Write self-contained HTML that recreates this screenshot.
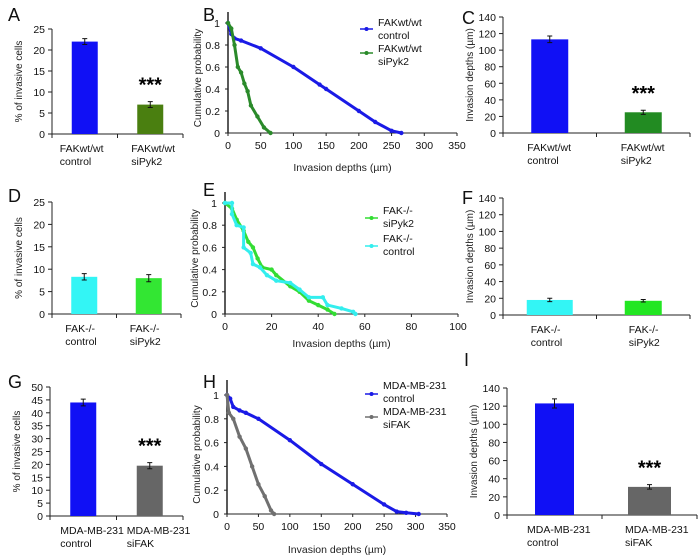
<!DOCTYPE html>
<html><head><meta charset="utf-8"><style>
html,body{margin:0;padding:0;background:#fff;}
svg{display:block;font-family:"Liberation Sans",Arial,sans-serif;}
</style></head><body>
<svg id="fig" width="700" height="558" viewBox="0 0 700 558" xmlns="http://www.w3.org/2000/svg"></svg>
<script>
// ---- Bar chart data ----
const barA_cats = ["FAKwt/wt|control","FAKwt/wt|siPyk2"];
const barA_vals = [22, 7];
const barA_err = [0.7, 0.7];
const barC_cats = ["FAKwt/wt|control","FAKwt/wt|siPyk2"];
const barC_vals = [113, 25];
const barC_err = [4, 2.5];
const barD_cats = ["FAK-/-|control","FAK-/-|siPyk2"];
const barD_vals = [8.3, 8.0];
const barD_err = [0.7, 0.8];
const barF_cats = ["FAK-/-|control","FAK-/-|siPyk2"];
const barF_vals = [18, 17];
const barF_err = [2, 1.5];
const barG_cats = ["MDA-MB-231|control","MDA-MB-231|siFAK"];
const barG_vals = [44, 19.5];
const barG_err = [1.3, 1.2];
const barI_cats = ["MDA-MB-231|control","MDA-MB-231|siFAK"];
const barI_vals = [123, 31];
const barI_err = [5, 2.5];
const ticks25 = [0,5,10,15,20,25];
const ticks50 = [0,5,10,15,20,25,30,35,40,45,50];
const ticks140 = [0,20,40,60,80,100,120,140];
const ticksP = [0,0.2,0.4,0.6,0.8,1];
const ticks350 = [0,50,100,150,200,250,300,350];
const ticks100 = [0,20,40,60,80,100];
// ---- CDF data ----
const cdfB_ctrl_x = [0,5,10,20,50,100,140,150,200,225,250,265];
const cdfB_ctrl_y = [1,0.9,0.86,0.84,0.77,0.6,0.44,0.4,0.2,0.1,0.02,0];
const cdfB_si_x = [0,5,10,15,20,25,30,35,45,55,65];
const cdfB_si_y = [1,0.95,0.8,0.6,0.55,0.45,0.38,0.25,0.15,0.05,0];
const cdfE_si_x = [0,3,5,8,10,12,14,16,20,22,28,32,36,40,44,47];
const cdfE_si_y = [1,0.95,0.85,0.75,0.65,0.6,0.5,0.42,0.4,0.35,0.25,0.2,0.12,0.08,0.04,0];
const cdfE_ctrl_x = [0,3,3,5,8,8,11,12,15,18,22,28,32,36,42,44,50,55,56];
const cdfE_ctrl_y = [1,1,0.9,0.8,0.78,0.6,0.55,0.45,0.42,0.35,0.3,0.28,0.22,0.15,0.15,0.08,0.05,0.02,0];
const cdfH_ctrl_x = [0,5,10,20,30,50,100,150,200,250,270,285,305];
const cdfH_ctrl_y = [1,0.97,0.9,0.87,0.85,0.8,0.62,0.42,0.25,0.08,0.02,0.01,0];
const cdfH_si_x = [0,3,10,20,30,40,50,60,70,75];
const cdfH_si_y = [1,0.85,0.8,0.65,0.55,0.4,0.25,0.15,0.03,0];

const NS="http://www.w3.org/2000/svg";
const svg=document.getElementById('fig');
function mk(tag,attrs,parent,text){const e=document.createElementNS(NS,tag);for(const k in attrs)e.setAttribute(k,attrs[k]);if(text!==undefined)e.textContent=text;(parent||svg).appendChild(e);return e;}
function grp(name){const g=document.createElementNS(NS,'g');svg.appendChild(g);return g;}

function letter(t,x,y){const e=mk('text',{x:x,y:y,'font-size':18,fill:'#111'},svg,t);

}

function barChart(o){
 const g=grp('bar-chart-'+o.id);
 const ys=v=>o.y0-(v/o.ymax)*(o.y0-o.y1);
 mk('line',{x1:o.ax,y1:o.ytop,x2:o.ax,y2:o.y0,stroke:'#222','stroke-width':1},g);
 mk('line',{x1:o.ax,y1:o.y0,x2:o.xend,y2:o.y0,stroke:'#222','stroke-width':1},g);
 const mid=(o.ax+o.xend)/2;
 [o.ax,mid,o.xend].forEach(x=>mk('line',{x1:x,y1:o.y0,x2:x,y2:o.y0+4,stroke:'#222'},g));
 o.ticks.forEach(t=>{const y=ys(t);
  mk('line',{x1:o.ax-4,y1:y,x2:o.ax,y2:y,stroke:'#222'},g);
  const tl=mk('text',{x:o.ax-7,y:y+4,'font-size':10.5,'text-anchor':'end',fill:'#111'},g,String(t));
  
  });
 const ttl=mk('text',{transform:`translate(${o.ax-30},${(o.y0+o.ytop)/2}) rotate(-90)`,'font-size':10,'text-anchor':'middle',fill:'#222'},g,o.ytitle);
 
 
 const slot=(o.xend-o.ax)/2;
 o.vals.forEach((v,i)=>{
  const cx=o.ax+slot*(i+0.5);const w=o.bw[i];
  const r=mk('rect',{x:cx-w/2,y:ys(v),width:w,height:o.y0-ys(v),fill:o.colors[i]},g);
  
  
  const e=o.err[i];
  mk('path',{d:`M${cx},${ys(v+e)}V${ys(v-e)}M${cx-2.5},${ys(v+e)}H${cx+2.5}M${cx-2.5},${ys(v-e)}H${cx+2.5}`,stroke:'#111',fill:'none','stroke-width':1},g);
  const parts=o.cats[i].split('|');
  parts.forEach((p,j)=>{const t=mk('text',{x:cx-w/2+o.lblOff[i],y:o.y0+18+j*13,'font-size':10.5,fill:'#111'},g,p);
   
   });
  if(o.star&&i===1){const s=mk('text',{x:cx,y:ys(v+e)-10,'font-size':20,'font-weight':'bold','text-anchor':'middle',fill:'#000'},g,'***');
   
   }
 });
}

function cdfChart(o){
 const g=grp('cdf-chart-'+o.id);
 const xs=v=>o.ax+(v/o.xmax)*(o.xend-o.ax);
 const ys=v=>o.y0-v*(o.y0-o.y1);
 mk('line',{x1:o.ax,y1:o.ytop,x2:o.ax,y2:o.y0,stroke:'#222','stroke-width':1.5},g);
 mk('line',{x1:o.ax,y1:o.y0,x2:o.xend,y2:o.y0,stroke:'#222'},g);
 o.yticks.forEach(t=>{const y=ys(t);
  mk('line',{x1:o.ax-3,y1:y,x2:o.ax,y2:y,stroke:'#222'},g);
  const tl=mk('text',{x:o.ax-8,y:y+4,'font-size':10.5,'text-anchor':'end',fill:'#111'},g,String(t));
  
  });
 o.xticks.forEach(t=>{const x=xs(t);
  mk('line',{x1:x,y1:o.y0,x2:x,y2:o.y0+3,stroke:'#222'},g);
  const tl=mk('text',{x:x,y:o.y0+16,'font-size':10.5,'text-anchor':'middle',fill:'#111'},g,String(t));
  
  });
 const yt=mk('text',{transform:`translate(${o.ax-27},${(o.y0+o.y1)/2}) rotate(-90)`,'font-size':10,'text-anchor':'middle',fill:'#222'},g,'Cumulative probability');
 
 
 const xt=mk('text',{x:(o.ax+o.xend)/2,y:o.xtitleY,'font-size':10.5,'text-anchor':'middle',fill:'#222'},g,'Invasion depths (µm)');
 
 
 o.series.forEach((s,k)=>{
  const pts=s.x.map((v,i)=>xs(v).toFixed(1)+','+ys(s.y[i]).toFixed(1)).join(' ');
  const pl=mk('polyline',{points:pts,fill:'none',stroke:s.color,'stroke-width':s.w||3,'stroke-linejoin':'round'},g);
  
  
  s.x.forEach((v,i)=>{const c=mk('circle',{cx:xs(v),cy:ys(s.y[i]),r:2.2,fill:s.color},g);
   
   });
  const L=o.legend[k];
  const lg=mk('g',{},g);
  
  
  mk('line',{x1:L.x,y1:L.my,x2:L.x+13,y2:L.my,stroke:s.color,'stroke-width':1.5},lg);
  mk('circle',{cx:L.x+6.5,cy:L.my,r:2,fill:s.color},lg);
  s.label.split('|').forEach((p,j)=>mk('text',{x:L.x+18,y:L.ty+j*13,'font-size':10.5,fill:'#111'},lg,p));
 });
}

letter('A',8,21);letter('B',203,21);letter('C',462,24);
letter('D',8,202);letter('E',203,196);letter('F',462,204);
letter('G',8,388);letter('H',203,388);letter('I',464,366);

barChart({id:'a',ax:52,xend:183,y0:134,y1:29,ytop:29,ymax:25,ticks:ticks25,vals:barA_vals,err:barA_err,cats:barA_cats,colors:['#1010f5','#4a7f10'],bw:[26,26],lblOff:[-12,-6],star:true,ytitle:'% of invasive cells'});
barChart({id:'c',ax:503,xend:690,y0:133,y1:17,ytop:17,ymax:140,ticks:ticks140,vals:barC_vals,err:barC_err,cats:barC_cats,colors:['#1010f5','#228b22'],bw:[37,37],lblOff:[-4,-4],star:true,ytitle:'Invasion depths (µm)'});
barChart({id:'d',ax:52,xend:181,y0:314,y1:202,ytop:202,ymax:25,ticks:ticks25,vals:barD_vals,err:barD_err,cats:barD_cats,colors:['#33f5f5','#33e633'],bw:[26,26],lblOff:[-6,-6],star:false,ytitle:'% of invasive cells'});
barChart({id:'f',ax:503,xend:690,y0:315,y1:198,ytop:198,ymax:140,ticks:ticks140,vals:barF_vals,err:barF_err,cats:barF_cats,colors:['#33f5f5','#22e622'],bw:[46,37],lblOff:[4,4],star:false,ytitle:'Invasion depths (µm)'});
barChart({id:'g',ax:50,xend:183,y0:516,y1:387,ytop:387,ymax:50,ticks:ticks50,vals:barG_vals,err:barG_err,cats:barG_cats,colors:['#1010f5','#666666'],bw:[26,26],lblOff:[-10,-10],star:true,ytitle:'% of invasive cells'});
barChart({id:'i',ax:507,xend:697,y0:515,y1:388,ytop:388,ymax:140,ticks:ticks140,vals:barI_vals,err:barI_err,cats:barI_cats,colors:['#1010f5','#666666'],bw:[39,43],lblOff:[-8,-3],star:true,ytitle:'Invasion depths (µm)'});

cdfChart({id:'b',ax:228,xend:457,xmax:350,y0:133,y1:23,ytop:12,yticks:ticksP,xticks:ticks350,xtitleY:171,
 series:[{key:'control',x:cdfB_ctrl_x,y:cdfB_ctrl_y,color:'#1a1ae6',label:'FAKwt/wt|control'},{key:'sipyk2',x:cdfB_si_x,y:cdfB_si_y,color:'#2a8a2a',label:'FAKwt/wt|siPyk2'}],
 legend:[{x:360,my:29,ty:26},{x:360,my:53,ty:52}]});
cdfChart({id:'e',ax:225,xend:458,xmax:100,y0:314,y1:203,ytop:192,yticks:ticksP,xticks:ticks100,xtitleY:347,
 series:[{key:'sipyk2',x:cdfE_si_x,y:cdfE_si_y,color:'#33dd33',label:'FAK-/-|siPyk2'},{key:'control',x:cdfE_ctrl_x,y:cdfE_ctrl_y,color:'#33eeee',label:'FAK-/-|control'}],
 legend:[{x:365,my:218,ty:214},{x:365,my:246,ty:242}]});
cdfChart({id:'h',ax:227,xend:447,xmax:350,y0:514,y1:395,ytop:380,yticks:ticksP,xticks:ticks350,xtitleY:553,
 series:[{key:'control',x:cdfH_ctrl_x,y:cdfH_ctrl_y,color:'#1a1ae6',label:'MDA-MB-231|control'},{key:'sifak',x:cdfH_si_x,y:cdfH_si_y,color:'#707070',label:'MDA-MB-231|siFAK'}],
 legend:[{x:365,my:394,ty:389},{x:365,my:417,ty:415}]});
</script>
</body></html>
